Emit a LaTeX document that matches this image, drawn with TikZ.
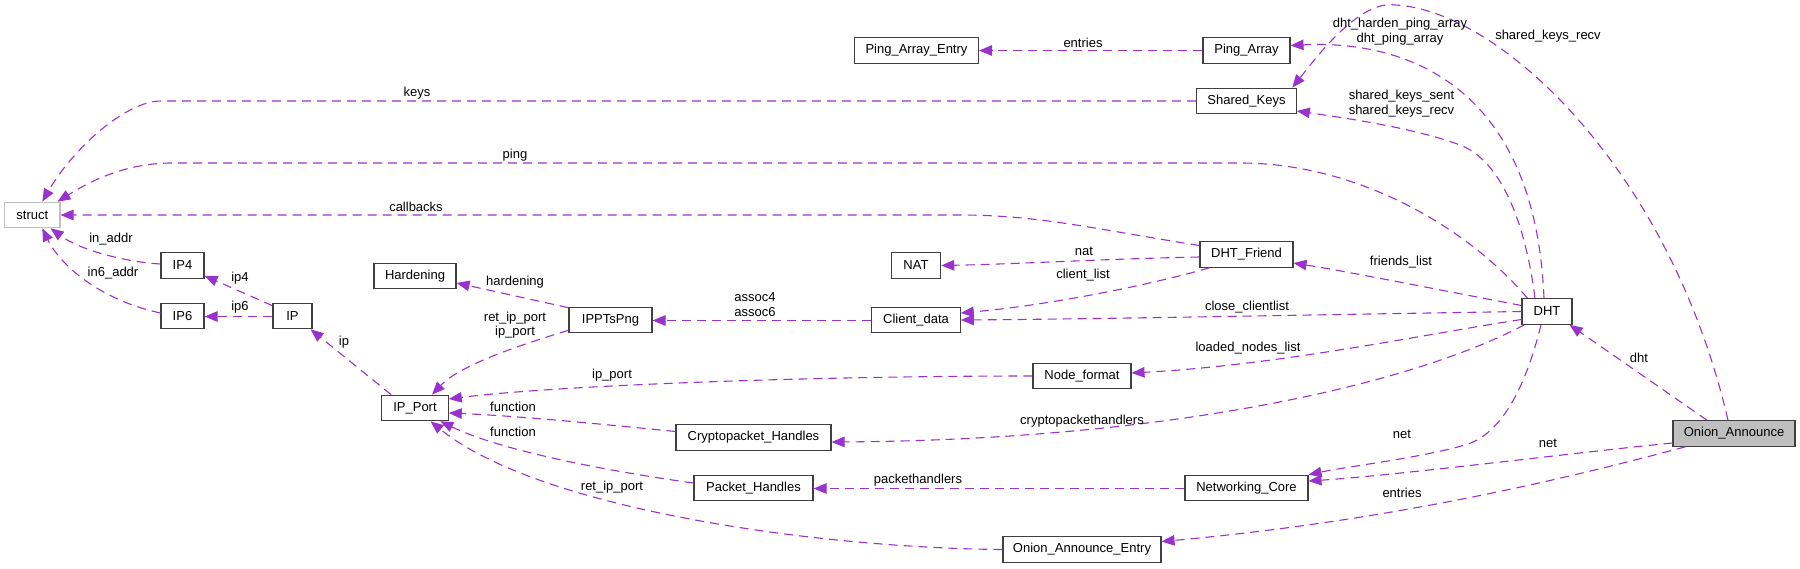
\documentclass[tikz,border=0pt]{standalone}
\usepackage{fontspec}
\setmainfont{Liberation Sans}
\usetikzlibrary{arrows.meta}
\definecolor{edgecol}{HTML}{9A32CD}
\definecolor{boxline}{HTML}{404040}
\definecolor{lightline}{HTML}{BFBFBF}
\begin{document}
\begin{tikzpicture}[x=1pt,y=-1pt,
  box/.style={draw=boxline,line width=1.1pt,fill=white,inner sep=0pt,minimum height=25.5pt,font=\fontsize{13}{15}\selectfont},
  edge/.style={draw=edgecol,line width=1.1pt,dash pattern=on 9pt off 6pt,-{Triangle[length=13pt,width=10.5pt]}},
  lbl/.style={inner sep=0pt,font=\fontsize{13}{14.5}\selectfont,align=center}]
\useasboundingbox (0,0) rectangle (1800,568);

% nodes
\node[box,minimum width=55.4pt,draw=lightline] (struct) at (32.3,215) {struct};
\node[box,minimum width=43pt] (IPfour) at (182.5,265.5) {IP4};
\node[box,minimum width=43pt] (IPsix) at (182.5,316) {IP6};
\node[box,minimum width=39pt] (IP) at (292.5,316) {IP};
\node[box,minimum width=82pt] (Hardening) at (415,276) {Hardening};
\node[box,minimum width=66.5pt] (IPPort) at (415,408) {IP\_Port};
\node[box,minimum width=83pt] (IPPTsPng) at (610.5,320) {IPPTsPng};
\node[box,minimum width=88.5pt] (Clientdata) at (916,320) {Client\_data};
\node[box,minimum width=98pt] (Nodeformat) at (1082,376) {Node\_format};
\node[box,minimum width=155pt] (Crypto) at (753.5,437.5) {Cryptopacket\_Handles};
\node[box,minimum width=119pt] (Packet) at (753.5,488) {Packet\_Handles};
\node[box,minimum width=158pt] (OAE) at (1082,549.5) {Onion\_Announce\_Entry};
\node[box,minimum width=123pt] (NetCore) at (1246.5,488) {Networking\_Core};
\node[box,minimum width=50pt] (DHT) at (1547,311.5) {DHT};
\node[box,minimum width=93pt] (DHTFriend) at (1246.5,254.5) {DHT\_Friend};
\node[box,minimum width=49.4pt] (NAT) at (916,265.5) {NAT};
\node[box,minimum width=124pt] (PAE) at (916.5,50.5) {Ping\_Array\_Entry};
\node[box,minimum width=87pt] (PingArray) at (1246.5,50.5) {Ping\_Array};
\node[box,minimum width=99.5pt] (SharedKeys) at (1246.5,101) {Shared\_Keys};
\node[box,minimum width=122pt,fill=lightline] (OA) at (1734,433.5) {Onion\_Announce};

% edges
\draw[edge] (SharedKeys.west) -- (161,101) .. controls (125,101) and (72,150) .. ([xshift=10pt]struct.north);
\draw[edge] ([xshift=6pt]DHT.north west) .. controls (1470,230) and (1360,163) .. (1240,163) -- (172,163) .. controls (130,163) and (95,178) .. ([xshift=-3pt]struct.north east);
\draw[edge] ([yshift=9pt]DHTFriend.west) .. controls (1100,230) and (1040,215) .. (960,215) -- (struct.east);
\draw[edge] ([yshift=1.5pt]IPfour.west) .. controls (125,262) and (80,250) .. ([xshift=-10pt]struct.south east);
\draw[edge] ([yshift=3pt]IPsix.west) .. controls (100,300) and (60,265) .. ([xshift=10pt]struct.south);
\draw[edge] ([yshift=-3pt]IP.north west) -- ([yshift=3pt]IPfour.south east);
\draw[edge] ([yshift=-0.5pt]IP.west) -- ([yshift=-0.5pt]IPsix.east);
\draw[edge] ([xshift=10pt]IPPort.north west) -- ([xshift=-2pt]IP.south east);
\draw[edge] ([yshift=-1pt]IPPTsPng.north west) -- ([yshift=-7pt]Hardening.east);
\draw[edge] ([yshift=3pt]IPPTsPng.south west) .. controls (520,345) and (460,365) .. ([xshift=17pt]IPPort.north);
\draw[edge] ([yshift=-0.5pt]Clientdata.west) -- ([yshift=-0.5pt]IPPTsPng.east);
\draw[edge] ([yshift=-2.5pt]DHTFriend.west) .. controls (1100,259) and (1020,264) .. (NAT.east);
\draw[edge] ([xshift=10pt]DHTFriend.south west) .. controls (1150,285) and (1050,305) .. ([yshift=7pt]Clientdata.east);
\draw[edge] (DHT.west) .. controls (1300,315) and (1100,319) .. (Clientdata.east);
\draw[edge] ([yshift=-8pt]DHT.west) .. controls (1420,335) and (1280,365) .. ([yshift=3pt]Nodeformat.east);
\draw[edge] ([yshift=6pt]DHT.west) .. controls (1450,292) and (1350,272) .. ([yshift=-8.5pt]DHTFriend.east);
\draw[edge] ([xshift=3pt]DHT.south west) .. controls (1400,390) and (1150,440) .. ([yshift=-4.5pt]Crypto.east);
\draw[edge] ([xshift=-6pt]DHT.south) .. controls (1525,390) and (1500,435) .. (1465,445) .. controls (1420,458) and (1350,466) .. (NetCore.north east);
\draw[edge] ([yshift=-9.5pt]OA.west) .. controls (1580,452) and (1400,475) .. ([yshift=7pt]NetCore.east);
\draw[edge] ([xshift=-27pt]OA.north) -- ([xshift=-3pt]DHT.south east);
\draw[edge] ([xshift=13pt]OA.south west) .. controls (1580,475) and (1400,520) .. ([yshift=8pt]OAE.east);
\draw[edge] ([xshift=-6pt]OA.north) .. controls (1670,170) and (1500,10) .. (1395,5) .. controls (1360,0) and (1318,55) .. ([xshift=-4.5pt]SharedKeys.north east);
\draw[edge] ([xshift=-3pt]DHT.north) .. controls (1535,80) and (1400,40) .. ([yshift=5pt]PingArray.east);
\draw[edge] ([xshift=-12pt]DHT.north) .. controls (1525,220) and (1500,160) .. (1460,145) .. controls (1420,130) and (1360,120) .. ([yshift=-10pt]SharedKeys.east);
\draw[edge] (PingArray.west) -- (PAE.east);
\draw[edge] (Nodeformat.west) .. controls (800,376) and (550,386) .. ([yshift=9pt]IPPort.east);
\draw[edge] ([yshift=6pt]Crypto.west) .. controls (600,424) and (520,416) .. ([yshift=-5pt]IPPort.east);
\draw[edge] ([yshift=5pt]Packet.west) .. controls (600,470) and (500,450) .. ([xshift=-8.5pt]IPPort.south east);
\draw[edge] (OAE.west) .. controls (820,548) and (540,510) .. ([xshift=15.5pt]IPPort.south);
\draw[edge] ([yshift=-0.5pt]NetCore.west) -- ([yshift=-0.5pt]Packet.east);

% labels
\node[lbl] (lkeys) at (417,93) {keys};
\node[lbl] (lping) at (515,155) {ping};
\node[lbl] (lcallbacks) at (416,207) {callbacks};
\node[lbl] (linaddr) at (111,239) {in\_addr};
\node[lbl] (linsixaddr) at (113,273) {in6\_addr};
\node[lbl] (lipfour) at (240,278) {ip4};
\node[lbl] (lipsix) at (240,307) {ip6};
\node[lbl] (lip) at (344,342) {ip};
\node[lbl] (lhardening) at (515,282) {hardening};
\node[lbl] (lretip) at (515,325) {ret\_ip\_port\\ip\_port};
\node[lbl] (lassoc) at (755,304.5) {assoc4\\assoc6};
\node[lbl] (lnat) at (1084,251) {nat};
\node[lbl] (lclientlist) at (1083,275) {client\_list};
\node[lbl] (lclose) at (1247,307) {close\_clientlist};
\node[lbl] (lloaded) at (1248,348) {loaded\_nodes\_list};
\node[lbl] (lfriends) at (1401,262) {friends\_list};
\node[lbl] (lcrypto) at (1082,421) {cryptopackethandlers};
\node[lbl] (lnetone) at (1402,434) {net};
\node[lbl] (lnettwo) at (1548,443) {net};
\node[lbl] (ldht) at (1639,358) {dht};
\node[lbl] (lentriesone) at (1402,493) {entries};
\node[lbl] (lskrecv) at (1548,36) {shared\_keys\_recv};
\node[lbl] (lpingarr) at (1400,31.5) {dht\_harden\_ping\_array\\dht\_ping\_array};
\node[lbl] (lsksent) at (1401.5,103.5) {shared\_keys\_sent\\shared\_keys\_recv};
\node[lbl] (lentriestwo) at (1083,43) {entries};
\node[lbl] (lipport) at (612,375) {ip\_port};
\node[lbl] (lfuncone) at (513,407) {function};
\node[lbl] (lfunctwo) at (513,432) {function};
\node[lbl] (lretipport) at (612,487) {ret\_ip\_port};
\node[lbl] (lpackethandlers) at (918,480) {packethandlers};
\end{tikzpicture}
\end{document}
